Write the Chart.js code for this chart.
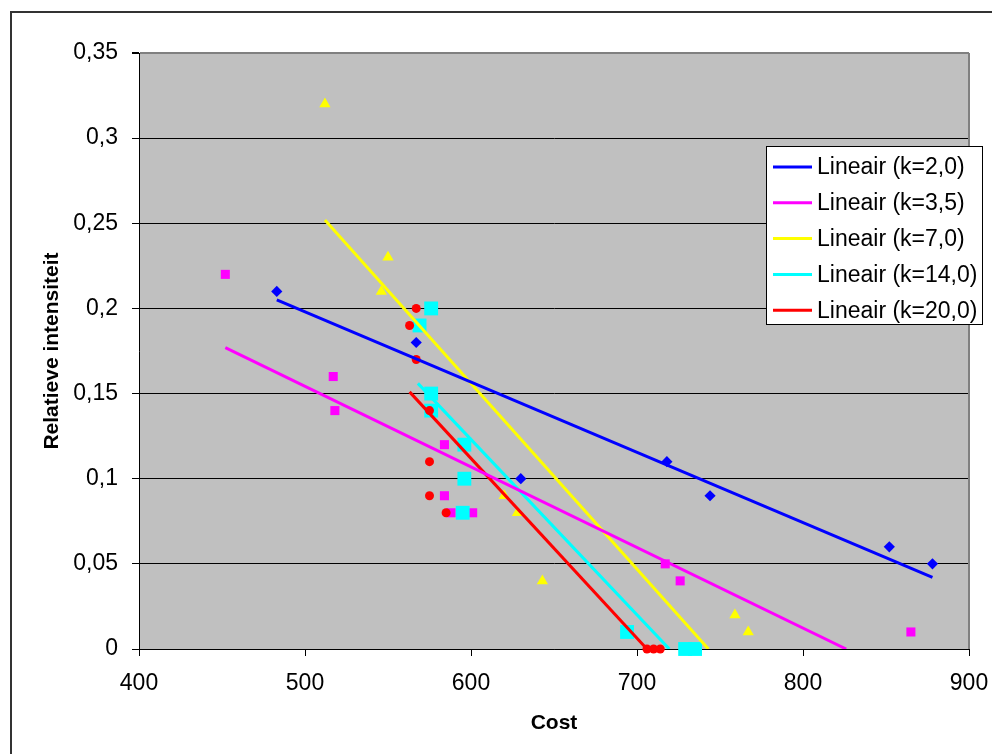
<!DOCTYPE html>
<html>
<head>
<meta charset="utf-8">
<script src="https://cdn.jsdelivr.net/npm/chart.js@4"></script>
<style>
html, body { margin: 0; padding: 0; background: #fff; }
#wrap { width: 992px; height: 754px; }
</style>
</head>
<body>
<div id="wrap"><canvas id="chart" width="992" height="754"></canvas></div>
<script>
// measured points, per k value (cost vs relative intensity)
const costK2 = [483, 567, 630, 718, 744, 852, 878];
const relK2 = [0.21, 0.18, 0.10, 0.11, 0.09, 0.06, 0.05];

const costK35 = [452, 517, 518, 584, 584, 588, 601, 717, 726, 865];
const relK35 = [0.22, 0.16, 0.14, 0.12, 0.09, 0.08, 0.08, 0.05, 0.04, 0.01];

const costK7 = [512, 550, 546, 620, 628, 643, 759, 767];
const relK7 = [0.32, 0.23, 0.21, 0.09, 0.08, 0.04, 0.02, 0.01];

const costK14 = [576, 569, 576, 576, 596, 596, 595, 694, 729, 735];
const relK14 = [0.20, 0.19, 0.15, 0.14, 0.12, 0.10, 0.08, 0.01, 0, 0];

const costK20 = [567, 563, 567, 575, 575, 575, 585, 706, 710, 714];
const relK20 = [0.20, 0.19, 0.17, 0.14, 0.11, 0.09, 0.08, 0, 0, 0];

// linear trendlines (end points)
const trendCostK2 = [483, 878];
const trendRelK2 = [0.205, 0.042];
const trendCostK35 = [452, 826];
const trendRelK35 = [0.177, 0];
const trendCostK7 = [512, 743];
const trendRelK7 = [0.252, 0];
const trendCostK14 = [568, 719.5];
const trendRelK14 = [0.156, 0];
const trendCostK20 = [563, 706];
const trendRelK20 = [0.151, 0];

const xTicks = [400, 500, 600, 700, 800, 900];
const yTicks = [0, 0.05, 0.1, 0.15, 0.2, 0.25, 0.3, 0.35];

function pts(xs, ys) {
    return xs.map(function(x, i) { return { x: x, y: ys[i] }; });
}

function markers(xs, ys, color, style, radius, order) {
    return {
        data: pts(xs, ys),
        backgroundColor: color,
        borderColor: color,
        borderWidth: 0,
        pointStyle: style,
        pointRadius: radius,
        showLine: false,
        clip: false,
        order: order
    };
}

function trend(label, xs, ys, color, order) {
    return {
        label: label,
        data: pts(xs, ys),
        borderColor: color,
        backgroundColor: color,
        borderWidth: 3,
        pointRadius: 0,
        showLine: true,
        isTrend: true,
        order: order
    };
}

const fmt = function(v) {
    return (Math.round(v * 100) / 100).toString().replace('.', ',');
};

// white page, outer frame and grey plot background
const frame = {
    id: 'frame',
    beforeDraw(chart) {
        const c = chart.ctx, a = chart.chartArea;
        c.save();
        c.fillStyle = '#fff';
        c.fillRect(0, 0, chart.width, chart.height);
        c.strokeStyle = '#333';
        c.lineWidth = 2;
        c.strokeRect(11, 12, chart.width + 40, chart.height + 40);
        c.fillStyle = '#c0c0c0';
        c.fillRect(a.left, a.top, a.right - a.left, a.bottom - a.top);
        c.restore();
    },
    beforeDatasetsDraw(chart) {
        const c = chart.ctx, a = chart.chartArea;
        c.save();
        c.strokeStyle = '#808080';
        c.lineWidth = 2;
        c.beginPath();
        c.moveTo(a.right, a.top);
        c.lineTo(a.right, a.bottom);
        c.stroke();
        c.restore();
    }
};

// legend box inside the plot, trendlines only
const boxLegend = {
    id: 'boxLegend',
    afterDraw(chart) {
        const c = chart.ctx, a = chart.chartArea;
        const items = chart.data.datasets.filter(function(d) { return d.isTrend; });
        const left = a.right - 203, top = a.top + 93, w = 216, h = 178, rowH = 35.8;
        c.save();
        c.fillStyle = '#fff';
        c.fillRect(left, top, w, h);
        c.strokeStyle = '#000';
        c.lineWidth = 1;
        c.strokeRect(left + 0.5, top + 0.5, w, h);
        c.font = '23px "Liberation Sans", Arial, sans-serif';
        c.textBaseline = 'middle';
        c.textAlign = 'left';
        items.forEach(function(d, i) {
            const y = top + 21 + i * rowH;
            c.strokeStyle = d.borderColor;
            c.lineWidth = 3;
            c.beginPath();
            c.moveTo(left + 7, y);
            c.lineTo(left + 46, y);
            c.stroke();
            c.fillStyle = '#000';
            c.fillText(d.label, left + 51, y + 1);
        });
        c.restore();
    }
};

Chart.defaults.font.family = '"Liberation Sans", Arial, sans-serif';
Chart.defaults.color = '#000';

const ctx = document.getElementById('chart').getContext('2d');
const myChart = new Chart(ctx, {
    type: 'scatter',
    data: {
        datasets: [
            trend('Lineair (k=2,0)', trendCostK2, trendRelK2, '#0000ff', 0),
            trend('Lineair (k=3,5)', trendCostK35, trendRelK35, '#ff00ff', 1),
            trend('Lineair (k=7,0)', trendCostK7, trendRelK7, '#ffff00', 2),
            trend('Lineair (k=14,0)', trendCostK14, trendRelK14, '#00ffff', 3),
            trend('Lineair (k=20,0)', trendCostK20, trendRelK20, '#ff0000', 4),
            markers(costK20, relK20, '#ff0000', 'circle', 4.5, 5),
            markers(costK14, relK14, '#00ffff', 'rect', 9.8, 6),
            markers(costK7, relK7, '#ffff00', 'triangle', 6.5, 7),
            markers(costK35, relK35, '#ff00ff', 'rect', 6.4, 8),
            markers(costK2, relK2, '#0000ff', 'rectRot', 5.6, 9)
        ]
    },
    options: {
        responsive: false,
        animation: false,
        layout: { padding: { left: 0, top: 53, right: 23, bottom: 0 } },
        plugins: {
            legend: { display: false },
            tooltip: { enabled: false }
        },
        scales: {
            x: {
                type: 'linear',
                min: xTicks[0],
                max: xTicks[xTicks.length - 1],
                afterBuildTicks: function(s) { s.ticks = xTicks.map(function(v) { return { value: v }; }); },
                afterFit: function(s) { s.height = 105; s.paddingLeft = 0; s.paddingRight = 0; },
                ticks: { font: { size: 23 }, padding: 14, maxRotation: 0 },
                grid: { drawOnChartArea: false, drawTicks: true, tickLength: 7, tickColor: '#000' },
                border: { display: true, color: '#000', width: 1 },
                title: {
                    display: true,
                    text: 'Cost',
                    font: { size: 21, weight: 'bold' },
                    padding: { top: 0, bottom: 18 }
                }
            },
            y: {
                type: 'linear',
                min: yTicks[0],
                max: yTicks[yTicks.length - 1],
                afterBuildTicks: function(s) { s.ticks = yTicks.map(function(v) { return { value: v }; }); },
                afterFit: function(s) { s.width = 139; },
                ticks: { font: { size: 23 }, padding: 14, callback: fmt },
                grid: {
                    color: function(c) { return c.tick && c.tick.value >= 0.35 ? '#808080' : '#000'; },
                    lineWidth: function(c) { return c.tick && c.tick.value >= 0.35 ? 2 : 1; },
                    tickLength: 7,
                    tickColor: '#000'
                },
                border: { display: true, color: '#000', width: 1 },
                title: {
                    display: true,
                    text: 'Relatieve intensiteit',
                    font: { size: 21, weight: 'bold' },
                    padding: { top: 40, bottom: 0 }
                }
            }
        }
    },
    plugins: [frame, boxLegend]
});
</script>
</body>
</html>
